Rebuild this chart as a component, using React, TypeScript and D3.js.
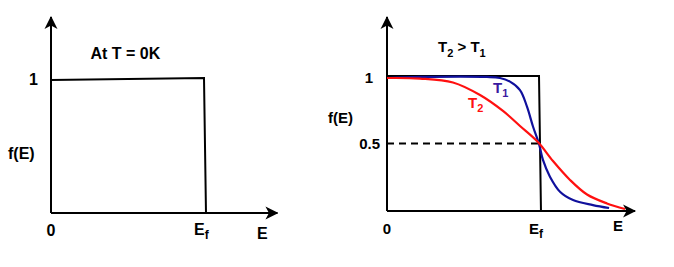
import React from "react";
import * as d3 from "d3";

// ---- Data ----
// Left panel: T = 0 K step function (E in units of Ef)
const stepE0 = [0, 1, 1.013];
const stepF0 = [0.993, 1.007, 0];

// Right panel: T = 0 reference step
const stepE = [0, 1, 1.013];
const stepF = [1, 1, 0];

// Fermi-Dirac curves
const t1E = [0, 0.217, 0.658, 0.743, 0.809, 0.875, 0.921, 0.961, 1.0, 1.026, 1.072, 1.138, 1.224, 1.355, 1.461];
const t1F = [0.985, 0.993, 0.993, 0.985, 0.958, 0.896, 0.773, 0.624, 0.496, 0.378, 0.254, 0.143, 0.081, 0.044, 0.022];

const t2E = [0, 0.217, 0.434, 0.612, 0.763, 0.875, 0.993, 1.092, 1.204, 1.316, 1.447, 1.566];
const t2F = [0.985, 0.981, 0.952, 0.859, 0.741, 0.63, 0.511, 0.37, 0.23, 0.122, 0.056, 0.015];

const halfLevel = 0.5;
const leftTicksY = ["1"];
const rightTicksY = ["1", "0.5"];

const FONT = "'Liberation Sans', Arial, sans-serif";

type P = [number, number];
const zip = (a: number[], b: number[]): P[] => a.map((v, i) => [v, b[i]]);

export default function App() {
  // Left scales
  const xL = d3.scaleLinear().domain([0, 1]).range([51, 204]);
  const yL = d3.scaleLinear().domain([0, 1]).range([213, 79]);
  const leftEMax = 1.48;
  const leftFMax = 1.463;

  // Right scales
  const xR = d3.scaleLinear().domain([0, 1]).range([387, 539]);
  const yR = d3.scaleLinear().domain([0, 1]).range([211, 76]);
  const rightEMax = 1.632;
  const rightFMax = 1.437;

  const lineL = d3.line<P>().x((d) => xL(d[0])).y((d) => yL(d[1]));
  const lineR = d3.line<P>().x((d) => xR(d[0])).y((d) => yR(d[1]));
  const curveR = d3
    .line<P>()
    .x((d) => xR(d[0]))
    .y((d) => yR(d[1]))
    .curve(d3.curveCatmullRom.alpha(0.5));

  const black = "#000";
  const blue = "#10109c";
  const red = "#ff1010";

  return (
    <svg width={674} height={267} style={{ position: "absolute", left: 0, top: 0 }}>
      <defs>
        <marker
          id="arr"
          viewBox="-14 -7 14 14"
          refX={-1}
          refY={0}
          markerWidth={14}
          markerHeight={14}
          markerUnits="userSpaceOnUse"
          orient="auto"
        >
          <path d="M0,0 L-13,-6.5 L-9.5,0 L-13,6.5 Z" fill="#000" />
        </marker>
      </defs>
      <rect x={0} y={0} width={674} height={267} fill="#fff" />

      {/* ---------- Left panel ---------- */}
      <g fontFamily={FONT} fontWeight="bold">
        <line x1={xL(0)} y1={yL(0)} x2={xL(0)} y2={yL(leftFMax)} stroke={black} strokeWidth={2} markerEnd="url(#arr)" />
        <line x1={xL(0)} y1={yL(0)} x2={xL(leftEMax)} y2={yL(0)} stroke={black} strokeWidth={2} markerEnd="url(#arr)" />
        <path d={lineL(zip(stepE0, stepF0)) || ""} fill="none" stroke={black} strokeWidth={2} />

        <text x={38} y={yL(1) + 6} fontSize={16} textAnchor="end">{leftTicksY[0]}</text>
        <text x={8} y={159} fontSize={16}>f(E)</text>
        <text x={90.5} y={59} fontSize={16}>At T = 0K</text>
        <text x={xL(0)} y={236} fontSize={16} textAnchor="middle">0</text>
        <text x={xL(1) - 10} y={235} fontSize={16}>
          E<tspan fontSize={12} dy={4}>f</tspan>
        </text>
        <text x={257} y={239} fontSize={16}>E</text>
      </g>

      {/* ---------- Right panel ---------- */}
      <g fontFamily={FONT} fontWeight="bold">
        <line x1={xR(0)} y1={yR(0)} x2={xR(0)} y2={yR(rightFMax)} stroke={black} strokeWidth={2} markerEnd="url(#arr)" />
        <line x1={xR(0)} y1={yR(0)} x2={xR(rightEMax)} y2={yR(0)} stroke={black} strokeWidth={2} markerEnd="url(#arr)" />
        <path d={lineR(zip(stepE, stepF)) || ""} fill="none" stroke={black} strokeWidth={2} />
        <line
          x1={xR(0)}
          y1={yR(halfLevel)}
          x2={xR(1)}
          y2={yR(halfLevel)}
          stroke={black}
          strokeWidth={2}
          strokeDasharray="7,5"
        />
        <path d={curveR(zip(t1E, t1F)) || ""} fill="none" stroke={blue} strokeWidth={2.2} />
        <path d={curveR(zip(t2E, t2F)) || ""} fill="none" stroke={red} strokeWidth={2.2} />

        <text x={373} y={yR(1) + 7} fontSize={15} textAnchor="end">{rightTicksY[0]}</text>
        <text x={380} y={yR(halfLevel) + 5.5} fontSize={15} textAnchor="end">{rightTicksY[1]}</text>
        <text x={328} y={123} fontSize={15}>f(E)</text>
        <text x={438} y={52} fontSize={15}>
          T<tspan fontSize={11} dy={5}>2</tspan>
          <tspan dy={-5}> &gt; T</tspan>
          <tspan fontSize={11} dy={5}>1</tspan>
        </text>
        <text x={xR(0)} y={234} fontSize={15} textAnchor="middle">0</text>
        <text x={xR(1) - 10} y={234} fontSize={15}>
          E<tspan fontSize={12} dy={4}>f</tspan>
        </text>
        <text x={613} y={231} fontSize={15}>E</text>

        <text x={493} y={93} fontSize={15} fill="#3a1aa0">
          T<tspan fontSize={11} dy={4}>1</tspan>
        </text>
        <text x={468} y={108} fontSize={15} fill={red}>
          T<tspan fontSize={11} dy={4}>2</tspan>
        </text>
      </g>
    </svg>
  );
}
